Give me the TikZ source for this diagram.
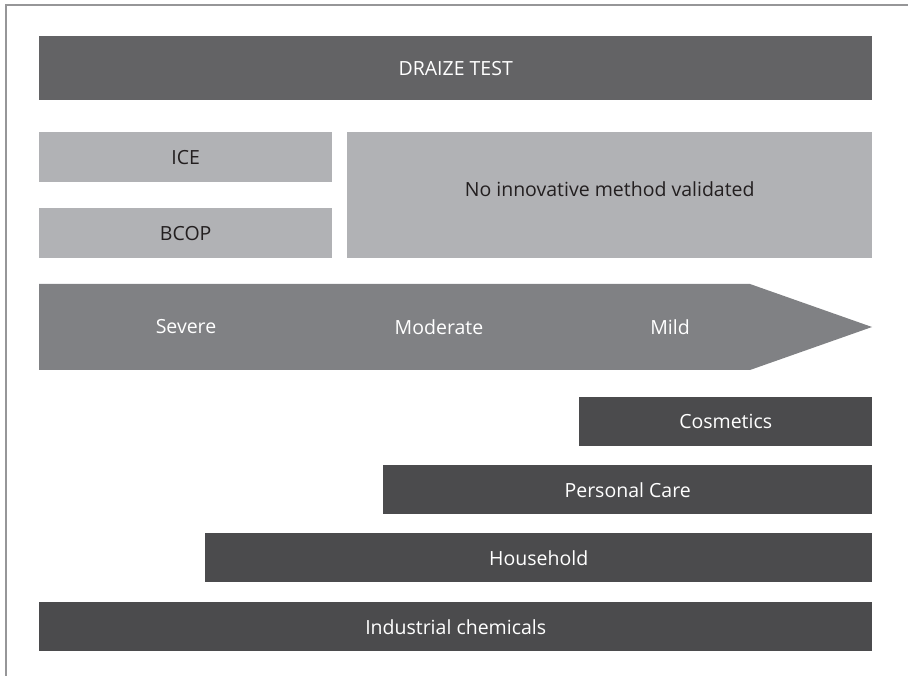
\documentclass[tikz,border=0pt]{standalone}
\usepackage{fontspec}
\setmainfont{Open Sans}
\usetikzlibrary{positioning}
\definecolor{dzframe}{RGB}{150,150,152}
\definecolor{dztop}{RGB}{99,99,101}
\definecolor{dzlight}{RGB}{177,178,181}
\definecolor{dzarrow}{RGB}{128,129,132}
\definecolor{dzdark}{RGB}{75,75,77}
\definecolor{dztext}{RGB}{35,31,32}
\tikzset{
  bar/.style={anchor=north west, inner sep=0pt, minimum width=#1},
  topbar/.style={bar=833pt, fill=dztop, minimum height=64pt},
  lightbox/.style={fill=dzlight, minimum height=50pt},
  usebar/.style={bar=#1, fill=dzdark, minimum height=49pt},
  lab/.style={font=\fontsize{19.5}{22}\selectfont, text=white},
  dlab/.style={font=\fontsize{19.5}{22}\selectfont, text=dztext},
}
\begin{document}
\begin{tikzpicture}[x=1pt, y=-1pt]
    \useasboundingbox (0,0) rectangle (908,676);
    \draw[dzframe, line width=2pt] (5.5,676) -- (5.5,5.5) -- (908,5.5);
    % reference test and alternative methods
    \node[topbar] (draize) at (39,36) {};
    \node[lab] at (draize.center) {DRAIZE TEST};
    \node[bar=293pt, lightbox] (ice) at (39,132) {};
    \node[bar=293pt, lightbox] (bcop) at (39,208) {};
    \node[bar=525pt, lightbox, minimum height=126pt] (none) at (347,132) {};
    \node[dlab] at (ice.center) {ICE};
    \node[dlab] at (bcop.center) {BCOP};
    \node[dlab] at ([yshift=6pt]none.center) {No innovative method validated};
    % severity scale
    \fill[dzarrow] (39,284) -- (750,284) -- (872,327) -- (750,370) -- (39,370) -- cycle;
    \node[lab] (severe) at (186,327) {Severe};
    \node[lab] (moderate) at (439,327) {Moderate};
    \node[lab] (mild) at (670,327) {Mild};
    % product categories
    \node[usebar=293pt] (cosm) at (579,397) {};
    \node[usebar=489pt] (pcare) at (383,465) {};
    \node[usebar=667pt] (house) at (205,533) {};
    \node[usebar=833pt] (indus) at (39,602) {};
    \node[lab] at (cosm.center) {Cosmetics};
    \node[lab] at (pcare.center) {Personal Care};
    \node[lab] at (house.center) {Household};
    \node[lab] at (indus.center) {Industrial chemicals};
  \end{tikzpicture}
\end{document}
